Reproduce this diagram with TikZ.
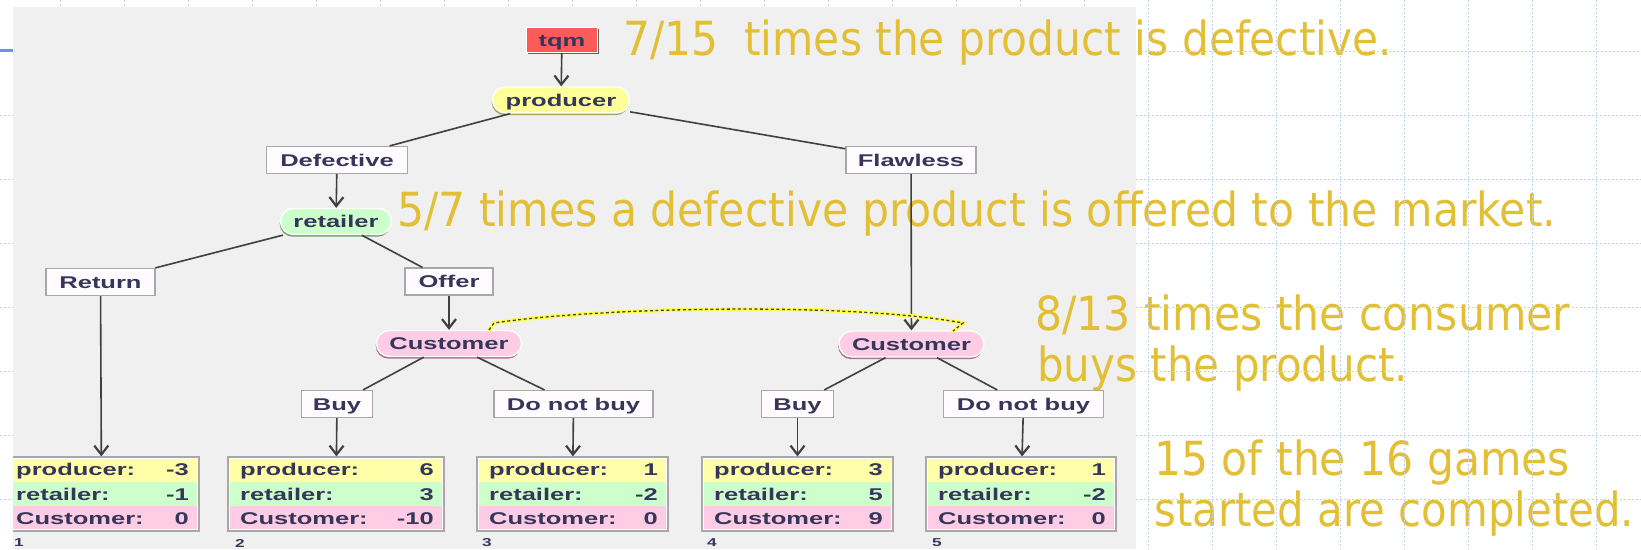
\documentclass[tikz,border=0pt]{standalone}
\usepackage{fontspec}
\usepackage{graphicx}
\usetikzlibrary{arrows.meta}
\newfontfamily\treefont[FakeStretch=1.5]{Liberation Sans}
\newfontfamily\notefont{DejaVu Sans}

\definecolor{panelgrey}{HTML}{F0F0F0}
\definecolor{gridblue}{HTML}{C4CFF2}
\definecolor{leftblue}{HTML}{7090EE}
\definecolor{inkblue}{HTML}{36365A}
\definecolor{notegold}{HTML}{E2BF35}
\definecolor{tqmred}{HTML}{FF5A5A}
\definecolor{prodfill}{HTML}{FFFF99}
\definecolor{prodshade}{HTML}{A4A460}
\definecolor{retfill}{HTML}{CCFFCC}
\definecolor{retshade}{HTML}{78A078}
\definecolor{custfill}{HTML}{FFCCE6}
\definecolor{custshade}{HTML}{A07890}
\definecolor{choicefill}{HTML}{FFFBFF}
\definecolor{framegrey}{HTML}{A8A8A8}
\definecolor{edgegrey}{HTML}{404040}
\definecolor{rowyellow}{HTML}{FFFFAA}
\definecolor{rowgreen}{HTML}{CCFFCC}
\definecolor{rowpink}{HTML}{FFCCE6}
\definecolor{glowyellow}{HTML}{FFFF55}

% set a line of text at a given natural font size, squeezed to a given width
\newlength\notewidth
\newcommand\fitnote[2]{\settowidth{\notewidth}{#2}%
  \pgfmathsetmacro\notescale{#1/\notewidth}\scalebox{\notescale}[1]{#2}}

\tikzset{
  treetext/.style={font=\treefont\bfseries\fontsize{17}{20}\selectfont, text=inkblue,
    inner sep=0pt, text height=12.2pt, text depth=0pt},
  tqmnode/.style={treetext, fill=tqmred, draw=white, line width=1pt,
    minimum width=71pt, minimum height=25pt,
    preaction={fill=black!62, transform canvas={xshift=1.5pt,yshift=-1.5pt}}},
  pill/.style 2 args={treetext, fill=#1, draw=white, line width=1.3pt,
    rounded corners=13pt, minimum height=26pt,
    preaction={fill=#2, transform canvas={xshift=-0.8pt,yshift=-2.2pt}}},
  choice/.style={treetext, fill=choicefill, draw=framegrey, line width=1.2pt,
    minimum height=27pt},
  edge/.style={draw=edgegrey, line width=1.6pt},
  arrowedge/.style={edge, -{Straight Barb[length=9pt,width=14pt,line width=2.2pt]}},
  note/.style={font=\notefont\fontsize{47}{56}\selectfont, text=notegold, inner sep=0pt},
  payofftext/.style={font=\treefont\bfseries\fontsize{17}{20}\selectfont, text=inkblue,
    inner sep=0pt},
  payoffframe/.style={draw=framegrey, line width=1.2pt, inner sep=0pt, minimum height=74pt},
  indexlabel/.style={font=\treefont\bfseries\fontsize{11.5}{13}\selectfont, text=inkblue,
    inner sep=0pt},
  gridline/.style={draw=gridblue, line width=0.9pt, dash pattern=on 2pt off 2pt},
  infoglow/.style={draw=glowyellow, line width=4pt, line cap=round},
  infodash/.style={draw=edgegrey, line width=1.3pt, dash pattern=on 3pt off 2.5pt},
}

% payoff table: name, left x, right x, three payoffs, index text, index x
\newcommand\payoffbox[8]{%
  \fill[rowyellow] (#2,457) rectangle (#3,481.7);
  \fill[rowgreen] (#2,481.7) rectangle (#3,506.3);
  \fill[rowpink] (#2,506.3) rectangle (#3,531);
  \draw[white, line width=1pt] ({#2+1.6},458.6) rectangle ({#3-1.6},529.4);
  \node[payofftext, anchor=base west] (#1-pl) at ({#2+12},475.5) {producer:};
  \node[payofftext, anchor=base west] (#1-rl) at ({#2+12},500.1) {retailer:};
  \node[payofftext, anchor=base west] (#1-cl) at ({#2+12},524.8) {Customer:};
  \node[payofftext, anchor=base east] (#1-pv) at ({#3-10},475.5) {#4};
  \node[payofftext, anchor=base east] (#1-rv) at ({#3-10},500.1) {#5};
  \node[payofftext, anchor=base east] (#1-cv) at ({#3-10},524.8) {#6};
  \node[payoffframe, minimum width={#3-#2}] (#1) at ({(#2+#3)/2},494) {};
  \node[indexlabel, anchor=west] (#1-n) at (#8,543) {#7};
}

\begin{document}
\begin{tikzpicture}[x=1pt,y=-1pt]
\useasboundingbox (0,0) rectangle (1641,549);
\fill[white] (0,0) rectangle (1641,549);

% grey canvas of the game tree
\fill[panelgrey] (13,6.5) rectangle (1136,549);

% commentary
\node[note, anchor=base west] (noteA) at (623,55)
  {\fitnote{769}{7/15\hspace{0.3em} times the product is defective.}};
\node[note, anchor=base west] (noteB) at (397,226)
  {\fitnote{1159}{5/7 times a defective product is offered to the market.}};
\node[note, anchor=base west] (noteC) at (1035,330)
  {\fitnote{535}{8/13 times the consumer}};
\node[note, anchor=base west] (noteD) at (1037,381)
  {\fitnote{371}{buys the product.}};
\node[note, anchor=base west] (noteE) at (1154,475)
  {\fitnote{416}{15 of the 16 games}};
\node[note, anchor=base west] (noteF) at (1154,526)
  {\fitnote{480}{started are completed.}};

% slide grid around the canvas
\begin{scope}[even odd rule]
  \clip (0,0) rectangle (1641,549) (13,6.5) rectangle (1136,549);
  \foreach \gx in {60,124,...,1596} \draw[gridline] (\gx,0) -- (\gx,549);
  \foreach \gy in {115,179,...,499} \draw[gridline] (0,\gy) -- (1641,\gy);
  \draw[gridline] (13,51) -- (1641,51);
  \draw[leftblue, line width=2.5pt] (0,50.5) -- (13,50.5);
\end{scope}

% game tree
\begin{scope}
  \clip (13,6.5) rectangle (1136,549);

  \node[tqmnode] (tqm) at (562,40) {tqm};
  \node[pill={prodfill}{prodshade}, minimum width=137pt] (producer) at (561,100) {producer};
  \node[choice, minimum width=141pt] (defective) at (337,160) {Defective};
  \node[choice, minimum width=130pt] (flawless) at (911,160) {Flawless};
  \node[pill={retfill}{retshade}, minimum width=111pt] (retailer) at (336,221.5) {retailer};
  \node[choice, minimum width=109pt] (return) at (100.5,282) {Return};
  \node[choice, minimum width=88pt] (offer) at (449,281.5) {Offer};
  \node[pill={custfill}{custshade}, minimum width=145pt] (cust1) at (449,343.5) {Customer};
  \node[pill={custfill}{custshade}, minimum width=145pt] (cust2) at (911.5,344) {Customer};
  \node[choice, minimum width=71pt] (buy1) at (337,404) {Buy};
  \node[choice, minimum width=159pt] (dnb1) at (573.5,404) {Do not buy};
  \node[choice, minimum width=72pt] (buy2) at (797.5,404) {Buy};
  \node[choice, minimum width=160pt] (dnb2) at (1023.5,404) {Do not buy};

  \payoffbox{pay1}{4}{199}{-3}{-1}{0}{1}{14}
  \payoffbox{pay2}{228}{444}{6}{3}{-10}{2}{235}
  \payoffbox{pay3}{477}{668}{1}{-2}{0}{3}{482}
  \payoffbox{pay4}{702}{893}{3}{5}{9}{4}{707}
  \payoffbox{pay5}{926}{1116}{1}{-2}{0}{5}{932}

  \draw[arrowedge] (tqm) -- (producer);
  \draw[edge] (producer) -- (defective);
  \draw[edge] (producer) -- (flawless);
  \draw[arrowedge] (defective) -- (retailer);
  \draw[arrowedge] (flawless) -- (cust2);
  \draw[edge] (retailer) -- (return);
  \draw[edge] (retailer) -- (offer);
  \draw[arrowedge] (offer) -- (cust1);
  \draw[arrowedge] (return) -- (pay1);
  \draw[edge] (cust1) -- (buy1);
  \draw[edge] (cust1) -- (dnb1);
  \draw[edge] (cust2) -- (buy2);
  \draw[edge] (cust2) -- (dnb2);
  \draw[arrowedge] (buy1) -- (pay2);
  \draw[arrowedge] (dnb1) -- (pay3);
  \draw[arrowedge] (buy2) -- (pay4);
  \draw[arrowedge] (dnb2) -- (pay5);

  % information set joining the two customer decisions
  \coordinate (infoL) at (489,330);
  \coordinate (infoR) at (953,331);
  \draw[infoglow] (infoL) -- ++(5,-7) .. controls (600,307) and (850,302) .. (963,323) -- (infoR);
  \draw[infodash] (infoL) -- ++(5,-7) .. controls (600,307) and (850,302) .. (963,323) -- (infoR);
\end{scope}
\end{tikzpicture}
\end{document}
